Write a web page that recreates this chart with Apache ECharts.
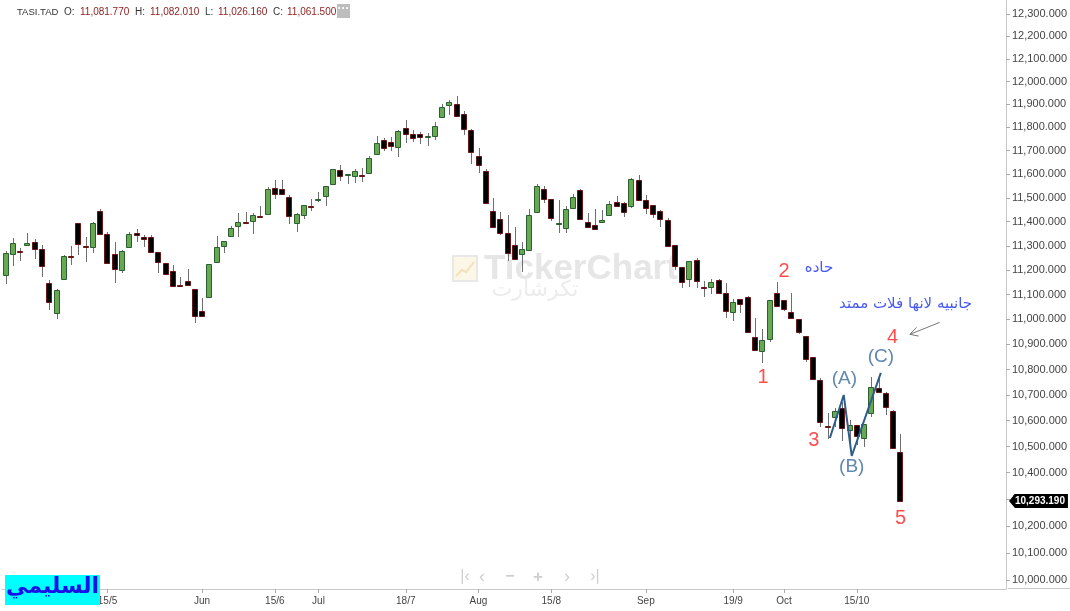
<!DOCTYPE html>
<html><head><meta charset="utf-8">
<script src="https://cdn.jsdelivr.net/npm/echarts@6/dist/echarts.min.js"></script>
<style>html,body{margin:0;padding:0;background:#fff}#c{width:1070px;height:611px}</style>
</head><body><div id="c"></div>
<script>
// ---- categories (trading days) ----
const dates = [
'2023-04-17','2023-04-26','2023-04-27','2023-04-30','2023-05-01','2023-05-02','2023-05-03','2023-05-04','2023-05-07','2023-05-08',
'2023-05-09','2023-05-10','2023-05-11','2023-05-14','2023-05-15','2023-05-16','2023-05-17','2023-05-18','2023-05-21','2023-05-22',
'2023-05-23','2023-05-24','2023-05-25','2023-05-28','2023-05-29','2023-05-30','2023-05-31','2023-06-01','2023-06-04','2023-06-05',
'2023-06-06','2023-06-07','2023-06-08','2023-06-11','2023-06-12','2023-06-13','2023-06-14','2023-06-15','2023-06-18','2023-06-19',
'2023-06-20','2023-06-21','2023-06-22','2023-07-02','2023-07-03','2023-07-04','2023-07-05','2023-07-06','2023-07-09','2023-07-10',
'2023-07-11','2023-07-12','2023-07-13','2023-07-16','2023-07-17','2023-07-18','2023-07-19','2023-07-20','2023-07-23','2023-07-24',
'2023-07-25','2023-07-26','2023-07-27','2023-07-30','2023-07-31','2023-08-01','2023-08-02','2023-08-03','2023-08-06','2023-08-07',
'2023-08-08','2023-08-09','2023-08-10','2023-08-13','2023-08-14','2023-08-15','2023-08-16','2023-08-17','2023-08-20','2023-08-21',
'2023-08-22','2023-08-23','2023-08-24','2023-08-27','2023-08-28','2023-08-29','2023-08-30','2023-08-31','2023-09-03','2023-09-04',
'2023-09-05','2023-09-06','2023-09-07','2023-09-10','2023-09-11','2023-09-12','2023-09-13','2023-09-14','2023-09-17','2023-09-18',
'2023-09-19','2023-09-20','2023-09-21','2023-09-25','2023-09-26','2023-09-27','2023-09-28','2023-10-01','2023-10-02','2023-10-03',
'2023-10-04','2023-10-05','2023-10-08','2023-10-09','2023-10-10','2023-10-11','2023-10-12','2023-10-15','2023-10-16','2023-10-17',
'2023-10-18','2023-10-19','2023-10-22','2023-10-23'];
// empty future slots on the right of the chart
const futureDates = ['2023-10-24','2023-10-25','2023-10-26','2023-10-29','2023-10-30','2023-10-31','2023-11-01','2023-11-02',
'2023-11-05','2023-11-06','2023-11-07','2023-11-08','2023-11-09','2023-11-12'];

// ---- OHLC values ----
const open = [
11178,11265,11280,11303,11317,11286,11147,11025,11163,11258,
11394,11299,11296,11445,11349,11266,11201,11294,11352,11335,
11335,11273,11228,11197,11139,11157,11122,11035,11092,11235,
11300,11341,11381,11398,11402,11424,11433,11543,11538,11504,
11396,11430,11465,11493,11509,11559,11619,11596,11592,11596,
11607,11688,11745,11738,11716,11799,11772,11772,11760,11765,
11845,11896,11900,11860,11791,11678,11615,11445,11412,11353,
11303,11265,11284,11442,11536,11494,11392,11375,11457,11533,
11398,11385,11398,11426,11483,11480,11465,11576,11491,11469,
11446,11406,11302,11212,11163,11242,11130,11133,11160,11108,
11030,11081.77,11089,10931,10874,10920,11106,11079,11030,11000,
10934,10849,10759,10579,10615,10651,10564,10583,10532,10629,
10729,10707,10638,10481];
const close = [
11269,11310,11273,11310,11286,11218,11072,11119,11258,11253,
11306,11294,11396,11349,11231,11206,11279,11348,11344,11330,
11276,11235,11184,11137,11135,11140,11013,11014,11224,11294,
11319,11374,11399,11394,11426,11419,11536,11517,11517,11424,
11434,11469,11461,11497,11549,11621,11594,11600,11612,11592,
11668,11732,11711,11721,11785,11772,11755,11759,11764,11805,
11887,11910,11851,11792,11695,11638,11479,11377,11352,11272,
11245,11288,11427,11550,11497,11415,11396,11452,11504,11411,
11380,11369,11408,11473,11466,11442,11578,11492,11457,11433,
11412,11298,11217,11153,11236,11156,11126,11153,11106,11035,
11072,11061.5,10950,10878,10918,11079,11055,11041,11004,10951,
10841,10762,10595,10575,10638,10571,10585,10541,10586,10730,
10712,10652,10494,10293.19];
const low = [
11142,11218,11239,11300,11246,11171,11038,11000,11160,11221,
11262,11235,11269,11348,11230,11149,11190,11293,11314,11296,
11275,11187,11183,11133,11130,11139,10987,11013,11088,11232,
11269,11340,11338,11393,11348,11418,11432,11494,11512,11391,
11357,11413,11446,11484,11466,11556,11573,11557,11562,11568,
11606,11682,11699,11699,11675,11732,11739,11729,11721,11746,
11840,11854,11850,11768,11644,11605,11478,11376,11346,11239,
11244,11194,11283,11441,11477,11401,11352,11355,11456,11410,
11375,11368,11394,11425,11465,11419,11459,11491,11433,11415,
11380,11297,11201,11126,11133,11126,11089,11103,11105,11004,
10994,11026.16,10949,10877,10825,10911,11054,11035,11003,10942,
10831,10761,10575,10528,10577,10522,10513,10506,10500,10613,
10711,10622,10493,10293.19];
const high = [
11279,11334,11292,11355,11328,11303,11160,11122,11262,11299,
11396,11335,11397,11454,11356,11317,11283,11359,11370,11346,
11345,11274,11231,11221,11171,11204,11123,11085,11225,11341,
11320,11382,11438,11442,11436,11466,11546,11576,11576,11512,
11435,11470,11495,11524,11550,11622,11639,11601,11622,11625,
11679,11764,11755,11758,11789,11831,11789,11779,11778,11824,
11902,11920,11938,11871,11792,11711,11621,11498,11440,11426,
11380,11317,11452,11557,11550,11495,11490,11466,11518,11539,
11436,11452,11449,11488,11508,11481,11583,11597,11512,11470,
11447,11414,11303,11213,11237,11249,11157,11164,11164,11149,
11081,11082.01,11095,11004,10960,11080,11150,11080,11106,11001,
10935,10850,10766,10629,10648,10674,10603,10584,10587,10772,
10772,10713,10642,10549];

// ---- tick labels ----
const xTickDates = ['2023-05-15','2023-06-01','2023-06-15','2023-07-02','2023-07-18','2023-08-01','2023-08-15','2023-09-03','2023-09-19','2023-10-01','2023-10-15'];
const xTickTexts = ['15/5','Jun','15/6','Jul','18/7','Aug','15/8','Sep','19/9','Oct','15/10'];
const yTicks = [10000,10100,10200,10300,10400,10500,10600,10700,10800,10900,11000,11100,
11200,11300,11400,11500,11600,11700,11800,11900,12000,12100,12200,12300];
const yMin = 9967, yMax = 12363;

// ---- annotations (x = trading-day index, y = price) ----
const annTexts = ['1','2','3','4','5','حاده','جانبيه لانها فلات ممتد','(A)','(B)','(C)'];
const annKinds = ['wave','wave','wave','wave','wave','note','note','abc','abc','abc'];
const annX = [104.1,107.0,111.1,121.9,123.0,111.8,123.7,115.3,116.3,120.3];
const annY = [10767,11193,10522,10926,10226,11209,11062,10763,10422,10850];
const zigzagX = [113.3,115.2,116.3,120.3];
const zigzagY = [10533,10700,10464,10787];
const arrowX = [128.4,124.3];
const arrowY = [10988,10940];
const arrowHeadX = [125.2,124.3,125.5];
const arrowHeadY = [10968,10940,10933];

const infoIndex = 101; // candle shown in the header
const lastIndex = close.length - 1;
const allCats = dates.concat(futureDates);
const N = allCats.length;
const fmt = v => Number(v).toLocaleString('en-US',{minimumFractionDigits:3,maximumFractionDigits:3});

const candleData = open.map((o,i)=>[i,o,close[i],low[i],high[i]]);
const kindStyle = {
  wave:{color:'#ff1f1f',fontSize:20,fontFamily:'Liberation Sans'},
  note:{color:'#1a2ff0',fontSize:15,fontFamily:'DejaVu Sans'},
  abc:{color:'#37699b',fontSize:19,fontFamily:'Liberation Sans'}
};
const annData = annTexts.map((t,i)=>({value:[annX[i],annY[i]],name:t,label:Object.assign({show:true},kindStyle[annKinds[i]])}));

function renderCandle(params, api){
  const i=api.value(0), o=api.value(1), c=api.value(2), l=api.value(3), h=api.value(4);
  const po=api.coord([i,o]), pc=api.coord([i,c]), pl=api.coord([i,l]), ph=api.coord([i,h]);
  const cx=Math.round(po[0]);
  const up=c>=o;
  const top=Math.round(Math.min(po[1],pc[1])), bot=Math.round(Math.max(po[1],pc[1]));
  const hgt=Math.max(bot-top,1);
  return {type:'group',children:[
    {type:'line',shape:{x1:cx+0.5,y1:Math.round(ph[1]),x2:cx+0.5,y2:Math.round(pl[1])},style:{stroke:'#6e6e6e',lineWidth:1}},
    {type:'rect',shape:{x:cx-2.5,y:top+0.5,width:5,height:hgt},style:{fill:up?'#67a852':'#000000',stroke:up?'#2b5f2f':'#6a1515',lineWidth:1}}
  ]};
}
// last-price tag on the price axis
function renderTag(params, api){
  const p=api.coord([api.value(0),api.value(1)]);
  const xr=params.coordSys.x+params.coordSys.width;
  const y=Math.round(p[1]);
  return {type:'group',children:[
    {type:'polygon',shape:{points:[[xr+3,y],[xr+9,y-7],[xr+62,y-7],[xr+62,y+7],[xr+9,y+7]]},style:{fill:'#000'}},
    {type:'text',x:xr+9,y:y,style:{text:fmt(api.value(1)),fill:'#fff',fontSize:10,fontWeight:'bold',fontFamily:'Liberation Sans',verticalAlign:'middle'}}
  ]};
}

const keyStyle = {fill:'#333',fontSize:10,fontFamily:'Liberation Sans'};
const valStyle = {fill:'#8b1c1c',fontSize:10,fontFamily:'Liberation Sans'};
function txt(x,y,text,style,extra){return Object.assign({type:'text',x:x,y:y,z:100,style:Object.assign({text:text,verticalAlign:'middle'},style)},extra||{});}

const chart = echarts.init(document.getElementById('c'));
chart.setOption({
  animation:false,
  backgroundColor:'#ffffff',
  grid:{left:2,right:62,top:0,bottom:22},
  xAxis:[{
    type:'category',data:allCats,boundaryGap:true,
    axisLine:{show:true,onZero:false,lineStyle:{color:'#c8c8c8'}},
    axisTick:{show:true,alignWithLabel:true,length:4,lineStyle:{color:'#aaa'},interval:(idx,val)=>xTickDates.includes(val)},
    axisLabel:{interval:(idx,val)=>xTickDates.includes(val),formatter:v=>xTickTexts[xTickDates.indexOf(v)],color:'#444',fontSize:10,fontFamily:'Liberation Sans',margin:7},
    splitLine:{show:false}
  },{
    type:'value',min:-0.5,max:N-0.5,show:false
  }],
  yAxis:{
    type:'log',logBase:10,position:'right',min:yMin,max:yMax,
    axisLine:{show:true,onZero:false,lineStyle:{color:'#c8c8c8'}},
    axisTick:{show:true,length:4,lineStyle:{color:'#aaa'},customValues:yTicks},
    axisLabel:{customValues:yTicks,formatter:v=>fmt(v),color:'#444',fontSize:11,fontFamily:'Liberation Sans',margin:6},
    splitLine:{show:false},minorTick:{show:false}
  },
  series:[
    {type:'custom',name:'TASI',xAxisIndex:0,renderItem:renderCandle,data:candleData,encode:{x:0,y:[1,2,3,4]},z:5,clip:true},
    {type:'line',xAxisIndex:1,data:zigzagX.map((x,i)=>[x,zigzagY[i]]),symbol:'none',lineStyle:{color:'#2e5d8c',width:2},z:8,silent:true},
    {type:'line',xAxisIndex:1,data:arrowX.map((x,i)=>[x,arrowY[i]]),symbol:'none',lineStyle:{color:'#777',width:1},z:8,silent:true},
    {type:'line',xAxisIndex:1,data:arrowHeadX.map((x,i)=>[x,arrowHeadY[i]]),symbol:'none',lineStyle:{color:'#777',width:1},z:8,silent:true},
    {type:'scatter',xAxisIndex:1,data:annData,symbolSize:0.1,itemStyle:{color:'transparent'},z:9,silent:true,
      label:{show:true,position:'inside',formatter:p=>p.name}},
    {type:'custom',xAxisIndex:0,renderItem:renderTag,data:[[lastIndex,close[lastIndex]]],encode:{x:0,y:1},z:20,clip:false,silent:true}
  ],
  graphic:[
    // watermark
    {type:'rect',z:0,shape:{x:453,y:256,width:24,height:25},style:{fill:'#fbf6e6',stroke:'#e8e8e8',lineWidth:2}},
    {type:'polyline',z:0,shape:{points:[[456,276],[462,270],[466,272],[474,262]]},style:{stroke:'#f0e2b8',lineWidth:2}},
    {type:'text',z:0,x:484,y:269,style:{text:'TickerChart',fontSize:35,fontWeight:'bold',fontFamily:'Liberation Sans',fill:'#e6e6e6',verticalAlign:'middle'}},
    {type:'text',z:0,x:535,y:290,style:{text:'تكرشارت',fontSize:22,fontFamily:'DejaVu Sans',fill:'#ececec',align:'center',verticalAlign:'middle'}},
    // header
    txt(17,12,'TASI.TAD',{fill:'#333',fontSize:9.5,fontFamily:'Liberation Sans'}),
    txt(64,12,'O:',keyStyle), txt(80,12,fmt(open[infoIndex]),valStyle),
    txt(135,12,'H:',keyStyle), txt(150,12,fmt(high[infoIndex]),valStyle),
    txt(205,12,'L:',keyStyle), txt(218,12,fmt(low[infoIndex]),valStyle),
    txt(273,12,'C:',keyStyle), txt(287,12,fmt(close[infoIndex]),valStyle),
    {type:'rect',z:100,shape:{x:337,y:4,width:13,height:14},style:{fill:'#bdbdbd'}},
    txt(343.5,9,'···',{fill:'#fff',fontSize:12,fontWeight:'bold',align:'center',fontFamily:'Liberation Sans'}),
    // navigation controls
    txt(465,577,'|‹',{fill:'#cfcfcf',fontSize:16,align:'center',fontFamily:'Liberation Sans'}),
    txt(482,577,'‹',{fill:'#cfcfcf',fontSize:18,align:'center',fontFamily:'Liberation Sans'}),
    txt(510,577,'−',{fill:'#cfcfcf',fontSize:16,align:'center',fontWeight:'bold',fontFamily:'Liberation Sans'}),
    txt(538,577,'+',{fill:'#cfcfcf',fontSize:17,align:'center',fontWeight:'bold',fontFamily:'Liberation Sans'}),
    txt(567,577,'›',{fill:'#cfcfcf',fontSize:18,align:'center',fontFamily:'Liberation Sans'}),
    txt(595,577,'›|',{fill:'#cfcfcf',fontSize:16,align:'center',fontFamily:'Liberation Sans'}),
    // bottom line extension under the price axis
    {type:'line',z:100,shape:{x1:1008,y1:588.5,x2:1070,y2:588.5},style:{stroke:'#c8c8c8',lineWidth:1}},
    // signature box
    {type:'rect',z:100,shape:{x:5,y:575,width:95,height:30},style:{fill:'#00ffff'}},
    txt(52.5,587,'السليمي',{fill:'#1a10e8',fontSize:22,fontWeight:'bold',align:'center',fontFamily:'DejaVu Sans'})
  ]
});
</script></body></html>
